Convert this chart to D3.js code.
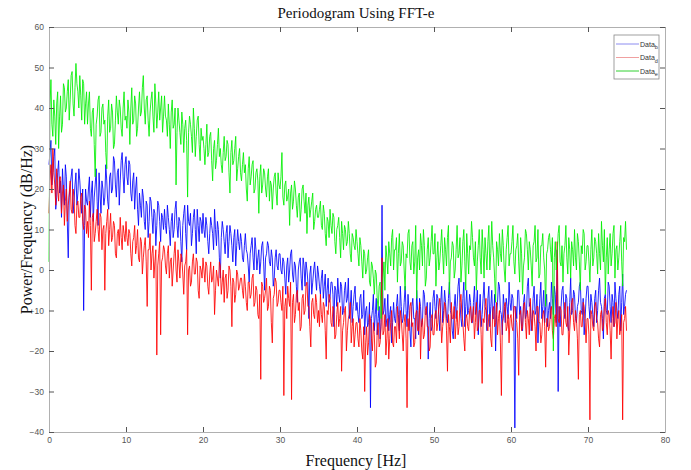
<!DOCTYPE html>
<html>
<head>
<meta charset="utf-8">
<script src="https://cdn.jsdelivr.net/npm/d3@7"></script>
<style>
  html, body { margin: 0; padding: 0; background: #fff; }
  svg { display: block; }
</style>
</head>
<body>
<svg id="chart" width="691" height="470"></svg>
<script>
// ---- Data ----
const freqStep = 0.125; // Hz per periodogram bin
const seriesNames = ["b", "d", "e"];
const xTicks = [0, 10, 20, 30, 40, 50, 60, 70, 80];
const yTicks = [-40, -30, -20, -10, 0, 10, 20, 30, 40, 50, 60];

const dataB = [
  26,29,32,21,24,28,30,15,18,24,27,19,22,13,25,20,16,26,23,12,3,18,21,23,25,14,17,21,24,16,19,25,22,18,14,20,-10,11,20,17,
  16,20,23,13,19,22,12,18,21,25,17,11,24,19,14,22,20,16,18,26,22,17,15,23,24,19,20,28,27,21,18,24,25,16,22,27,29,23,19,26,
  28,23,21,27,26,19,17,22,24,15,20,23,15,11,19,16,13,20,18,12,10,17,16,8,12,18,17,13,9,15,14,6,11,17,16,12,7,14,13,10,
  15,11,9,16,13,10,6,12,14,8,10,15,17,11,8,13,12,7,2,11,14,16,9,5,16,12,11,14,6,9,13,15,10,4,15,11,7,13,12,9,
  14,10,8,13,11,7,4,9,13,11,9,5,15,10,6,12,10,3,-2,8,12,10,7,4,9,11,3,7,11,9,6,2,8,10,1,6,10,7,5,9,
  7,3,2,6,9,5,4,1,-3,4,6,8,3,0,8,5,0,3,5,-1,2,6,7,2,-5,3,4,7,6,2,1,5,3,-4,-2,3,5,1,0,4,
  4,0,-1,3,2,-2,-6,1,3,-3,0,4,5,-1,-3,2,1,-4,-8,0,2,3,-2,-5,3,1,-4,2,0,-3,-12,-1,1,-6,-3,0,2,-2,-5,1,
  -1,-4,-6,-2,0,-7,-4,-1,-9,-5,-2,-8,-7,-3,-3,-6,-14,-4,-5,-9,-2,-6,-8,-3,-4,-11,-10,-5,-3,-8,-7,-2,-12,-9,-5,-13,-9,-6,-4,-10,
  -8,-11,-13,-7,-6,-12,-11,-5,-16,-10,-9,-14,-13,-8,-34,-12,-10,-6,-15,-11,-7,-16,-12,-9,-17,-13,16,-11,-10,-7,-14,-12,-6,-15,-11,-9,-18,-13,-8,-12,
  -13,-9,-6,-11,-15,-4,-9,-13,-12,-8,-4,-10,-14,-6,-10,-15,-19,-9,-7,-12,-12,-17,-5,-10,-16,-7,-9,-14,-13,-5,-6,-11,-11,-8,-22,-12,-8,-15,-14,-7,
  -5,-9,-12,-6,-7,-11,-15,-8,-4,-13,-10,-5,-8,-12,-13,-7,-3,-10,-11,-15,-17,-9,-6,-12,-9,-4,-2,-8,-12,-14,-7,-3,-14,-9,-5,-11,-10,-6,-8,-13,
  -13,-8,-4,-11,-9,-5,-16,-10,-6,-14,-11,-7,-3,-9,-10,-15,-7,-4,-14,-9,-5,-12,-12,-6,-20,-11,-8,-3,-4,-10,-11,-16,-6,-9,-13,-7,-9,-12,-3,-8,
  -10,-6,-7,-13,-39,-9,-12,-5,-5,-11,-9,-14,-15,-8,-6,-12,-11,-4,-2,-9,-8,-15,-13,-7,-4,-11,-10,-6,-18,-12,-7,-3,-12,-9,-5,-13,-9,-6,-14,-10,
  -8,-12,-3,-7,-11,-4,-6,-13,5,-30,-9,-14,-9,-5,-4,-10,-12,-6,-7,-14,-15,-8,-2,-11,-10,-5,-6,-12,-13,-9,-8,-4,-3,-10,-11,-7,-16,-12,-7,-4,
  -4,-9,-12,-6,-8,-11,-14,-7,-5,-13,-10,-5,-2,-8,-9,-12,-17,-7,-6,-10,-11,-3,-4,-9,-13,-6,-8,-14,-3,-7,-10,-12,-6,-4,-15,-8,-1,-11,-9,-6,
  -5
];

const dataD = [
  14,22,26,19,30,24,21,16,25,20,17,23,23,14,19,21,11,17,20,12,16,19,22,15,14,20,18,11,9,16,17,13,13,18,19,12,10,16,15,9,
  12,8,17,11,-5,13,14,7,9,12,15,10,7,14,13,5,10,11,-5,9,12,15,6,10,14,7,8,12,11,4,3,9,10,6,13,8,5,11,9,7,
  12,8,6,10,9,4,1,7,8,11,4,6,10,3,2,8,7,-1,3,6,8,2,-9,5,5,9,0,4,6,-2,2,5,-21,1,4,7,-16,2,3,6,
  5,1,-1,4,6,-2,2,3,-4,0,4,7,0,-3,5,2,-2,4,3,-1,-6,1,2,5,-16,0,1,-4,-3,2,4,-1,-1,3,2,-5,-7,1,0,-2,
  3,0,-3,2,1,-4,-6,-1,2,-3,-2,1,-11,-5,0,-2,-4,2,1,-6,-3,0,-8,-2,-1,-7,-5,1,0,-4,-14,-2,-3,-8,-6,0,-1,-5,-4,-2,
  -2,-5,-7,-1,-4,-8,-10,-3,-3,-7,-6,-2,-1,-9,-8,-4,-5,-11,-12,-6,-27,-3,-4,-8,-7,-5,-2,-10,-9,-4,-5,-13,-18,-7,-6,-2,-3,-9,-8,-5,
  -5,-8,-10,-4,-31,-9,-7,-12,-4,-7,-9,-3,-32,-8,-6,-13,-11,-6,-5,-10,-8,-15,-14,-7,-6,-11,-10,-4,-3,-9,-9,-14,-19,-8,-7,-11,-12,-6,-8,-13,
  -10,-14,-6,-11,-13,-8,-9,-15,-22,-10,-11,-6,-7,-13,-14,-9,-10,-17,-16,-11,-8,-14,-12,-9,-25,-15,-13,-10,-9,-20,-15,-12,-11,-8,-18,-14,-12,-19,-16,-13,
  -13,-17,-19,-12,-15,-20,-22,-14,-30,-18,-14,-21,-18,-11,-12,-17,-20,-13,-16,-24,-23,-15,-13,-19,-18,-14,3,-16,-15,-11,-21,-17,-12,-22,-17,-13,-10,-18,-19,-14,
  -14,-18,-9,-13,-17,-10,-12,-16,-20,-13,-11,-17,-34,-12,-15,-9,-8,-14,-13,-19,-18,-11,-10,-15,-15,-8,-22,-13,-12,-17,-16,-10,-9,-14,-14,-20,-19,-12,-11,-16,
  -16,-11,-10,-15,-13,-9,-7,-12,-18,-14,-12,-8,-9,-15,-25,-11,-14,-18,-8,-12,-12,-9,-17,-13,-10,-16,-14,-8,-6,-11,-13,-17,-20,-12,-11,-14,-15,-10,-9,-13,
  -12,-9,-17,-13,-8,-15,-14,-10,-10,-16,-28,-12,-13,-9,-7,-14,-15,-11,-11,-17,-19,-10,-9,-14,-13,-8,-16,-12,-10,-18,-31,-13,-12,-9,-8,-15,-14,-11,-18,-12,
  -11,-14,-15,-9,-9,-12,-13,-17,-26,-11,-10,-15,-14,-9,-8,-13,-17,-10,-12,-16,-7,-12,-15,-10,-11,-14,-20,-9,-9,-13,-13,-18,-16,-11,-10,-14,-24,-12,-12,-15,
  -14,-10,-9,-15,-17,-12,-11,-14,7,-12,-13,-9,-10,-16,-16,-11,-8,-13,-14,-9,-21,-15,-11,-8,-7,-13,-15,-10,-12,-17,-27,-11,-10,-14,-14,-8,-9,-13,-18,-12,
  -12,-16,-37,-10,-11,-14,-15,-9,-8,-12,-13,-17,-19,-11,-10,-15,-14,-9,-7,-13,-16,-10,-11,-15,-22,-12,-9,-14,-13,-8,-17,-12,-10,-16,-14,-11,-37,-13,-12,-9,
  -15
];

const dataE = [
  2,40,47,36,33,42,38,31,41,44,30,38,43,34,36,46,45,39,40,44,47,37,42,48,49,41,38,45,51,46,44,40,48,43,37,47,46,36,41,44,
  36,41,44,35,33,39,40,31,23,36,38,42,43,33,34,40,41,36,37,29,25,38,42,34,35,41,39,30,31,37,43,39,36,42,40,35,33,40,44,37,
  38,35,42,39,31,40,45,36,37,43,41,33,35,40,44,38,39,45,48,40,36,42,43,37,33,39,42,44,38,34,46,41,35,39,44,37,40,43,34,38,
  43,38,37,33,41,36,30,39,42,35,36,40,21,34,40,37,34,31,39,36,29,35,37,32,18,34,38,36,33,29,40,35,28,33,37,38,31,27,35,32,
  33,30,26,31,36,28,29,33,34,27,22,30,32,25,27,31,35,28,30,26,24,29,33,27,28,32,31,24,19,29,32,26,27,30,33,22,25,28,30,24,
  22,26,29,24,26,20,17,25,28,21,23,26,27,19,20,24,25,22,14,23,26,19,21,25,24,20,18,23,25,17,22,21,15,20,23,24,19,16,24,21,
  20,23,29,18,16,21,22,17,18,20,11,19,21,15,17,22,20,16,13,18,19,12,15,20,21,17,14,19,9,16,18,13,15,17,19,10,12,15,16,13,
  13,15,17,11,10,16,14,9,6,13,12,8,15,11,9,14,13,7,4,10,11,13,8,3,12,9,5,11,10,6,7,12,9,4,2,9,8,6,5,10,
  7,4,1,8,6,2,-2,5,4,-1,0,3,5,-3,-4,2,1,-2,-6,0,-1,-7,-10,-4,-3,-12,-8,-2,2,-5,6,3,-1,7,4,1,8,10,0,5,
  5,8,-3,4,9,1,2,7,6,0,-5,4,3,9,10,2,0,6,7,-1,2,11,-7,3,5,0,9,6,1,10,6,-4,-2,5,8,1,3,7,11,4,
  4,9,-4,3,7,0,2,6,10,4,-1,8,5,1,8,11,-6,2,3,7,6,-2,0,5,11,3,4,8,-3,1,7,10,2,-5,9,4,-1,6,5,12,
  8,3,1,7,-5,2,6,10,3,-1,10,5,-2,8,4,0,7,11,0,4,12,6,3,-2,-8,7,5,1,9,4,2,10,6,0,-3,5,8,11,1,4,
  4,7,11,2,-1,5,6,9,2,-3,8,4,-6,1,3,10,9,5,0,7,5,1,-4,6,7,11,2,3,10,-2,-1,6,6,9,3,0,-9,4,5,8,
  9,5,2,8,-20,3,7,0,4,9,11,2,1,6,-3,4,6,11,3,-1,8,5,-2,7,5,1,10,3,0,9,7,2,-5,6,4,10,9,0,2,6,
  6,2,-3,5,10,1,3,8,7,4,-1,9,4,0,12,6,2,10,-6,3,8,-1,5,9,1,4,9,11,-2,5,6,0,3,7,11,2,-4,8,7,12,
  5
];

const seriesValues = [dataB, dataD, dataE];
const seriesColors = ["#0000ff", "#ff0000", "#00ee00"];
const legendColors = ["#8c8cf0", "#f0a0a0", "#30d030"];

// ---- Layout ----
const svg = d3.select("#chart");
const margin = { left: 49, right: 26, top: 27, bottom: 38 };
const W = 691, H = 470;
const x = d3.scaleLinear().domain([0, 80]).range([margin.left, W - margin.right]);
const y = d3.scaleLinear().domain([-40, 60]).range([H - margin.bottom, margin.top]);

svg.append("rect").attr("width", W).attr("height", H).attr("fill", "#fff");

// Lines
const line = d3.line()
  .x((d, i) => x(i * freqStep))
  .y(d => y(d));

seriesValues.forEach((vals, k) => {
  svg.append("path")
    .datum(vals)
    .attr("fill", "none")
    .attr("stroke", seriesColors[k])
    .attr("stroke-width", 1)
    .attr("stroke-opacity", 0.85)
    .attr("d", line);
});

// Axes
const tickFont = "'Liberation Sans Narrow', 'Liberation Sans', Arial, sans-serif";
function styleAxis(g) {
  g.select(".domain").attr("stroke", "#b0b0b0").attr("stroke-width", 1);
  g.selectAll(".tick line").attr("stroke", "#555");
  g.selectAll(".tick text").attr("fill", "#555").style("font-family", tickFont).style("font-size", "8.5px");
}

svg.append("g")
  .attr("transform", `translate(0,${y(-40)})`)
  .call(d3.axisBottom(x).tickValues(xTicks).tickSize(-5).tickPadding(5).tickFormat(d3.format("d")))
  .call(styleAxis);
svg.append("g")
  .attr("transform", `translate(0,${y(60)})`)
  .call(d3.axisTop(x).tickValues(xTicks).tickSize(-5).tickFormat(""))
  .call(styleAxis);
svg.append("g")
  .attr("transform", `translate(${x(0)},0)`)
  .call(d3.axisLeft(y).tickValues(yTicks).tickSize(-5).tickPadding(5).tickFormat(d3.format("d")))
  .call(styleAxis);
svg.append("g")
  .attr("transform", `translate(${x(80)},0)`)
  .call(d3.axisRight(y).tickValues(yTicks).tickSize(-5).tickFormat(""))
  .call(styleAxis);

// Titles
const serif = "'Liberation Serif', 'Times New Roman', serif";
svg.append("text")
  .attr("x", 356).attr("y", 18)
  .attr("text-anchor", "middle")
  .style("font-family", serif).style("font-size", "15px").attr("fill", "#111")
  .text("Periodogram Using FFT-e");
svg.append("text")
  .attr("x", 356).attr("y", 466)
  .attr("text-anchor", "middle")
  .style("font-family", serif).style("font-size", "16px").attr("fill", "#111")
  .text("Frequency [Hz]");
svg.append("text")
  .attr("transform", `translate(32,${y(10)}) rotate(-90)`)
  .attr("text-anchor", "middle")
  .style("font-family", serif).style("font-size", "16px").attr("fill", "#111")
  .text("Power/Frequency (dB/Hz)");

// Legend
const lg = svg.append("g").attr("transform", "translate(614,35)");
lg.append("rect").attr("width", 45).attr("height", 44)
  .attr("fill", "#fff").attr("stroke", "#888").attr("stroke-width", 0.8);
seriesNames.forEach((nm, k) => {
  const yy = 9 + k * 13.5;
  lg.append("line").attr("x1", 2).attr("x2", 25).attr("y1", yy).attr("y2", yy)
    .attr("stroke", legendColors[k]).attr("stroke-width", 1);
  const t = lg.append("text").attr("x", 26).attr("y", yy + 2.5)
    .style("font-family", tickFont).style("font-size", "7px").attr("fill", "#333");
  t.append("tspan").text("Data");
  t.append("tspan").attr("dy", 2.5).style("font-size", "5.5px").text(nm);
});
</script>
</body>
</html>
